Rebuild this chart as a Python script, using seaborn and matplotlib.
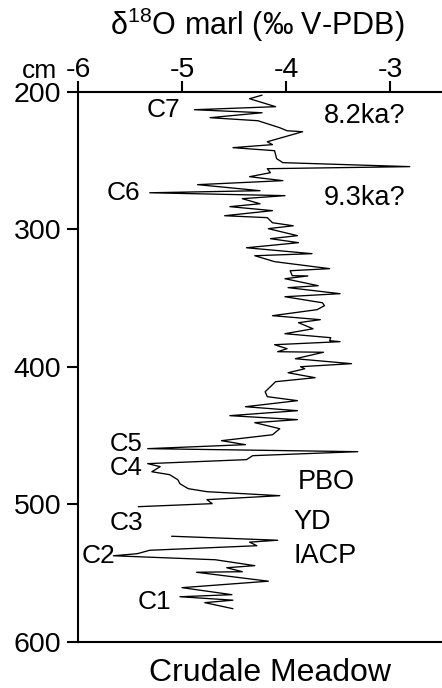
import matplotlib
matplotlib.use("Agg")
import pandas as pd
import matplotlib.pyplot as plt
import seaborn as sns

# Holocene section (cm depth, d18O marl)
depth_upper = [202.5, 205.1, 210.9, 213.1, 215.3, 218.9, 221.1, 226.2, 228.4, 229.1,
               236.4, 238.5, 240.7, 242.9, 248.7, 251.6, 254.5, 256.0, 258.9, 261.8,
               264.7, 267.6, 272.0, 273.5, 275.6, 277.8, 281.5, 283.6, 286.5, 290.2,
               291.6, 295.3, 297.5, 299.6, 304.7, 306.9, 309.8, 313.5, 317.8, 319.3,
               323.6, 328.7, 330.2, 333.8, 334.0, 336.0, 341.1, 342.5, 346.9, 349.1,
               353.5, 355.6, 358.5, 362.9, 365.8, 368.0, 372.4, 376.0, 378.9, 381.1,
               381.8, 384.0, 386.9, 389.1, 389.5, 394.2, 397.8, 400.0, 401.5, 404.4,
               408.0, 410.9, 418.2, 421.8, 424.7, 429.1, 432.0, 435.6, 438.5, 440.7,
               445.1, 449.5, 453.8, 456.7, 459.6, 461.8, 464.7, 467.6, 470.5, 472.7,
               476.4, 478.5, 482.2, 485.1, 488.7, 490.9, 493.8, 496.7, 499.6, 501.8]
d18o_upper = [-4.23, -4.35, -4.10, -4.88, -4.23, -4.73, -4.27, -4.06, -3.99, -3.84,
              -4.18, -4.13, -4.51, -4.11, -4.09, -4.03, -2.81, -4.18, -4.15, -4.35,
              -4.03, -4.85, -4.25, -5.31, -4.01, -4.42, -4.25, -4.54, -4.13, -4.59,
              -4.18, -4.13, -3.93, -4.17, -3.89, -4.15, -3.88, -4.38, -3.75, -4.30,
              -4.11, -3.58, -3.96, -3.94, -3.79, -4.01, -3.69, -3.98, -3.48, -4.01,
              -3.65, -3.63, -3.70, -4.13, -3.67, -3.88, -3.74, -4.01, -3.57, -3.58,
              -3.48, -4.11, -3.99, -4.08, -3.64, -3.91, -3.37, -3.86, -3.82, -3.98,
              -3.72, -4.10, -4.20, -4.18, -3.89, -4.39, -3.89, -4.54, -3.89, -4.30,
              -4.06, -4.13, -4.62, -4.39, -5.33, -3.31, -4.32, -4.38, -5.33, -5.21,
              -5.29, -5.12, -5.04, -5.02, -4.94, -4.76, -4.06, -4.76, -4.71, -5.42]

# Lateglacial section below the gap
depth_lower = [523.3, 526.2, 527.6, 530.2, 533.5, 536.0, 537.5, 540.4, 544.7, 546.2,
               549.1, 549.5, 556.0, 560.7, 565.8, 567.3, 569.8, 571.6, 576.0]
d18o_lower = [-5.10, -4.08, -4.35, -4.28, -5.31, -5.43, -5.66, -4.68, -4.30, -4.57,
              -4.42, -4.86, -4.17, -5.00, -4.52, -5.02, -4.51, -4.78, -4.51]

# annotations: text, x, depth, alignment, size
labels = ["C7", "8.2ka?", "C6", "9.3ka?", "C5", "C4", "PBO", "C3", "YD", "C2", "IACP", "C1"]
label_x = [-5.02, -3.64, -5.40, -3.64, -5.38, -5.38, -3.89, -5.375, -3.93, -5.64, -3.93, -5.10]
label_depth = [213, 218, 273.5, 277, 456.5, 474, 483.5, 514, 513, 537.5, 537.5, 571]
label_ha = ["right", "left", "right", "left", "right", "right", "left", "right", "left", "right", "left", "right"]
label_size = [19, 19.5, 19, 19.5, 18.5, 18.5, 19.5, 19, 19.5, 19, 19.5, 19]

df = pd.concat([
    pd.DataFrame({"depth": depth_upper, "d18O": d18o_upper, "section": "upper"}),
    pd.DataFrame({"depth": depth_lower, "d18O": d18o_lower, "section": "lower"}),
], ignore_index=True)

sns.set_style("ticks")
plt.rcParams['font.family'] = ['Liberation Sans', 'DejaVu Sans']
plt.rcParams['mathtext.fontset'] = 'custom'
plt.rcParams['mathtext.rm'] = 'Liberation Sans'
plt.rcParams['mathtext.default'] = 'regular'
plt.rcParams['axes.unicode_minus'] = False
plt.rcParams['text.color'] = 'black'

fig = plt.figure(figsize=(4.42, 6.88), dpi=100)
ax = fig.add_axes([78 / 442, 1 - 641.7 / 688, 1 - 78 / 442, 550 / 688])

sns.lineplot(data=df, x="d18O", y="depth", units="section", estimator=None,
             sort=False, color="black", lw=0.95, ax=ax)

ax.set_xlim(-6, -2.5)
ax.set_ylim(600, 200)
ax.xaxis.tick_top()
ax.set_xticks([-6, -5, -4, -3])
ax.set_xticklabels(["-6", "-5", "-4", "-3"])
ax.set_yticks([200, 300, 400, 500, 600])
ax.tick_params(direction="out", length=8, width=1.5, labelsize=20.5, colors="black")
ax.tick_params(axis="x", pad=-2)
ax.tick_params(axis="y", pad=4)
ax.set_xlabel("")
ax.set_ylabel("")
for side in ["top", "left", "bottom"]:
    ax.spines[side].set_visible(True)
    ax.spines[side].set_linewidth(1.5)
    ax.spines[side].set_color("black")
ax.spines["right"].set_visible(False)

for txt, xv, dv, ha, fs in zip(labels, label_x, label_depth, label_ha, label_size):
    ax.text(xv, dv, txt, ha=ha, va="center", fontsize=fs)

fig.text(0.581, 0.949, r"δ$^{18}$O marl (‰ V-PDB)", ha="center", va="baseline", fontsize=22)
fig.text(0.050, 0.886, "cm", ha="left", va="baseline", fontsize=19)
fig.text(0.611, 0.0102, "Crudale Meadow", ha="center", va="baseline", fontsize=23)

plt.savefig("out.png", dpi=100)
